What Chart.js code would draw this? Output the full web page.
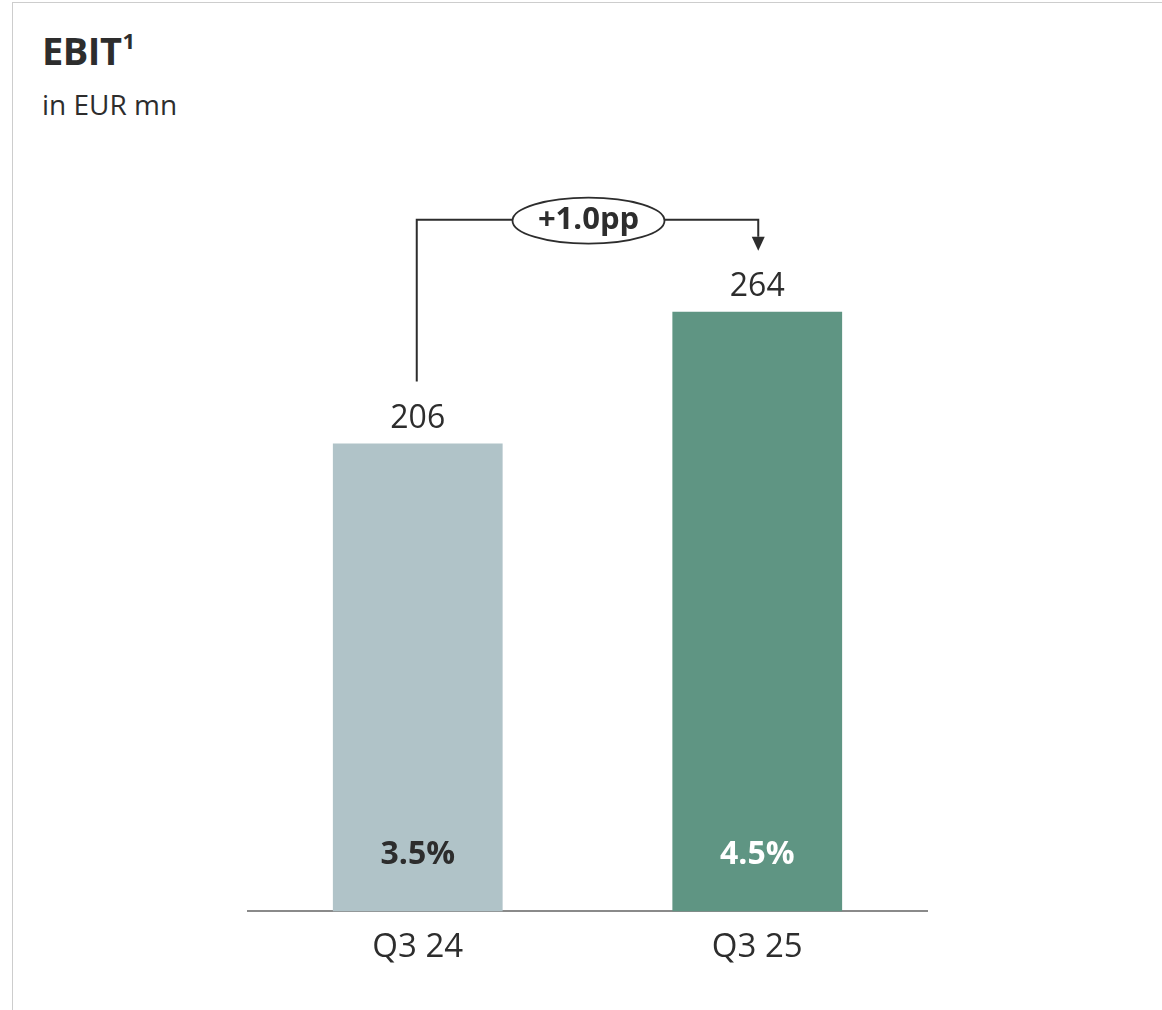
<!DOCTYPE html>
<html>
<head>
<meta charset="utf-8">
<script src="https://cdn.jsdelivr.net/npm/chart.js@4.4.1/dist/chart.umd.min.js"></script>
<style>
  html, body { margin: 0; padding: 0; background: #fff; }
  #wrap { position: relative; width: 1162px; height: 1010px; overflow: hidden; font-family: "Open Sans", "Noto Sans", sans-serif; color: #2d2d2d; }
  #frame { position: absolute; left: 12px; top: 2px; width: 1160px; height: 1020px; border-left: 1px solid #cdcdcd; border-top: 1px solid #cdcdcd; }
  #title { position: absolute; left: 42px; top: 28px; font-weight: bold; font-size: 38px; line-height: 1.2; letter-spacing: -0.5px; }
  #title sup { font-size: 22px; position: relative; top: -2px; margin-left: 1px; }
  #unit { position: absolute; left: 42px; top: 88px; font-size: 28px; line-height: 1.2; }
  canvas { position: absolute; left: 0; top: 0; }
</style>
</head>
<body>
<div id="wrap">
  <div id="frame"></div>
  <div id="title">EBIT<sup>1</sup></div>
  <div id="unit">in EUR mn</div>
  <canvas id="ebitChart" width="1162" height="1010"></canvas>
</div>
<script>
// EBIT in EUR mn and EBIT margin in %
const quarters = ["Q3 24", "Q3 25"];
const ebit = [206, 264];
const margin = [3.5, 4.5];

const barColors = ["#b0c3c8", "#5f9583"];
const marginColors = ["#2d2d2d", "#ffffff"];
const ink = "#2d2d2d";
const font = '"Open Sans", "Noto Sans", sans-serif';

// value above each bar, margin inside near the base
const barLabels = {
  id: "barLabels",
  afterDatasetsDraw(chart) {
    const ctx = chart.ctx;
    const bars = chart.getDatasetMeta(0).data;
    ctx.save();
    ctx.textAlign = "center";
    ctx.textBaseline = "middle";
    bars.forEach((bar, i) => {
      ctx.fillStyle = ink;
      ctx.font = "32px " + font;
      ctx.fillText(String(ebit[i]), bar.x, bar.y - 25);
      ctx.fillStyle = marginColors[i];
      ctx.font = "bold 32px " + font;
      ctx.fillText(margin[i].toFixed(1) + "%", bar.x, bar.base - 57);
    });
    ctx.restore();
  }
};

// bracket from the first bar to the second with the margin change
const marginBracket = {
  id: "marginBracket",
  afterDatasetsDraw(chart) {
    const ctx = chart.ctx;
    const bars = chart.getDatasetMeta(0).data;
    const a = bars[0], b = bars[1];
    const yTop = Math.min(a.y, b.y) - 92;
    const tipY = b.y - 61;
    const midX = (a.x + b.x) / 2;
    const delta = margin[1] - margin[0];
    const txt = (delta >= 0 ? "+" : "") + delta.toFixed(1) + "pp";

    ctx.save();
    ctx.strokeStyle = ink;
    ctx.fillStyle = ink;
    ctx.lineWidth = 2;
    ctx.beginPath();
    ctx.moveTo(a.x - 1, a.y - 62);
    ctx.lineTo(a.x - 1, yTop);
    ctx.lineTo(b.x + 1, yTop);
    ctx.lineTo(b.x + 1, tipY - 14);
    ctx.stroke();

    ctx.beginPath();
    ctx.moveTo(b.x + 1 - 6.5, tipY - 14);
    ctx.lineTo(b.x + 1 + 6.5, tipY - 14);
    ctx.lineTo(b.x + 1, tipY);
    ctx.closePath();
    ctx.fill();

    ctx.beginPath();
    ctx.ellipse(midX + 1, yTop + 1, 76, 23, 0, 0, Math.PI * 2);
    ctx.fillStyle = "#ffffff";
    ctx.fill();
    ctx.lineWidth = 1.8;
    ctx.stroke();

    ctx.fillStyle = ink;
    ctx.font = "bold 31px " + font;
    ctx.textAlign = "center";
    ctx.textBaseline = "middle";
    ctx.fillText(txt, midX + 1, yTop + 1);
    ctx.restore();
  }
};

new Chart(document.getElementById("ebitChart"), {
  type: "bar",
  data: {
    labels: quarters,
    datasets: [{
      data: ebit,
      backgroundColor: barColors,
      borderWidth: 0,
      categoryPercentage: 1,
      barPercentage: 0.5
    }]
  },
  options: {
    responsive: false,
    animation: false,
    layout: {
      padding: { top: 139, left: 248, right: 235, bottom: 27 }
    },
    plugins: {
      legend: { display: false },
      tooltip: { enabled: false }
    },
    scales: {
      x: {
        grid: { display: false, drawTicks: false },
        border: { display: true, color: "#8a8a8a", width: 2 },
        ticks: { color: ink, font: { family: font, size: 33 }, padding: 16 }
      },
      y: {
        display: false,
        min: 0,
        max: 340
      }
    }
  },
  plugins: [barLabels, marginBracket]
});
</script>
</body>
</html>
